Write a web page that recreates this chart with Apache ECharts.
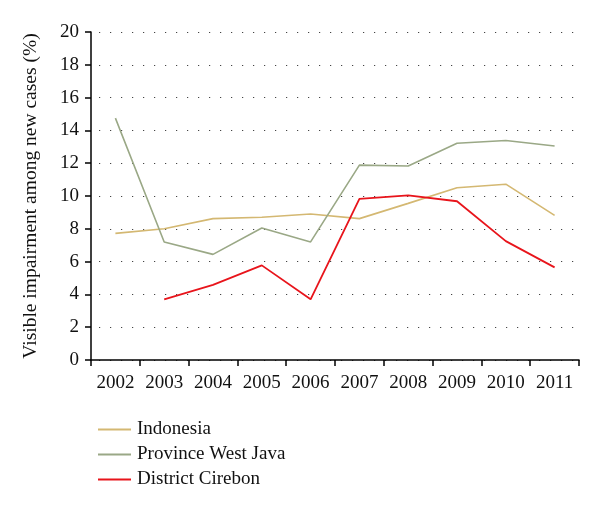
<!DOCTYPE html>
<html><head><meta charset="utf-8">
<script src="https://cdn.jsdelivr.net/npm/echarts@6/dist/echarts.min.js"></script>
<style>html,body{margin:0;padding:0;background:#fff}#c{width:600px;height:512px}</style>
</head><body><div id="c"></div>
<script>
var years = ['2002','2003','2004','2005','2006','2007','2008','2009','2010','2011'];
var indonesia = [7.72, 8.0, 8.62, 8.7, 8.9, 8.62, 9.55, 10.5, 10.72, 8.82];
var westJava = [14.75, 7.2, 6.44, 8.05, 7.2, 11.88, 11.83, 13.22, 13.38, 13.05];
var cirebon = [null, 3.7, 4.58, 5.77, 3.7, 9.82, 10.04, 9.68, 7.25, 5.65];
var yTicks = [0, 2, 4, 6, 8, 10, 12, 14, 16, 18, 20];

var font = 'Liberation Serif';
var chart = echarts.init(document.getElementById('c'));
chart.setOption({
  animation: false,
  backgroundColor: '#fff',
  grid: {left: 91, right: 21, top: 32, bottom: 152, containLabel: false},
  xAxis: {
    type: 'category', data: years, boundaryGap: true,
    axisLine: {lineStyle: {color: '#000', width: 1.5}},
    axisTick: {show: true, interval: 0, length: 6, lineStyle: {color: '#000', width: 1.5}, alignWithLabel: false},
    axisLabel: {interval: 0, color: '#111', fontFamily: font, fontSize: 19, margin: 14},
    splitLine: {show: false}
  },
  yAxis: {
    type: 'value', min: yTicks[0], max: yTicks[yTicks.length - 1], interval: 2,
    name: 'Visible impairment among new cases (%)',
    nameLocation: 'middle', nameGap: 50,
    nameTextStyle: {color: '#111', fontFamily: font, fontSize: 19.5},
    axisLine: {show: true, lineStyle: {color: '#000', width: 1.5}},
    axisTick: {show: true, length: 6, lineStyle: {color: '#000', width: 1.5}},
    axisLabel: {color: '#111', fontFamily: font, fontSize: 19, margin: 12},
    splitLine: {show: true, lineStyle: {color: '#444', width: 1.2, type: [1.2, 9.8], dashOffset: -8}}
  },
  legend: {
    orient: 'vertical', left: 93, top: 415,
    itemWidth: 33, itemHeight: 2, icon: 'rect', itemGap: 6,
    textStyle: {color: '#111', fontFamily: font, fontSize: 19, lineHeight: 17, padding: [0,0,0,1]},
    data: ['Indonesia', 'Province West Java', 'District Cirebon']
  },
  series: [
    {name: 'Indonesia', type: 'line', data: indonesia, showSymbol: false, symbol: 'none',
     color: '#d4b872', lineStyle: {width: 1.6, color: '#d4b872'}},
    {name: 'Province West Java', type: 'line', data: westJava, showSymbol: false, symbol: 'none',
     color: '#9aa886', lineStyle: {width: 1.6, color: '#9aa886'}},
    {name: 'District Cirebon', type: 'line', data: cirebon, showSymbol: false, symbol: 'none',
     color: '#e8141b', lineStyle: {width: 1.8, color: '#e8141b'}}
  ]
});
</script></body></html>
